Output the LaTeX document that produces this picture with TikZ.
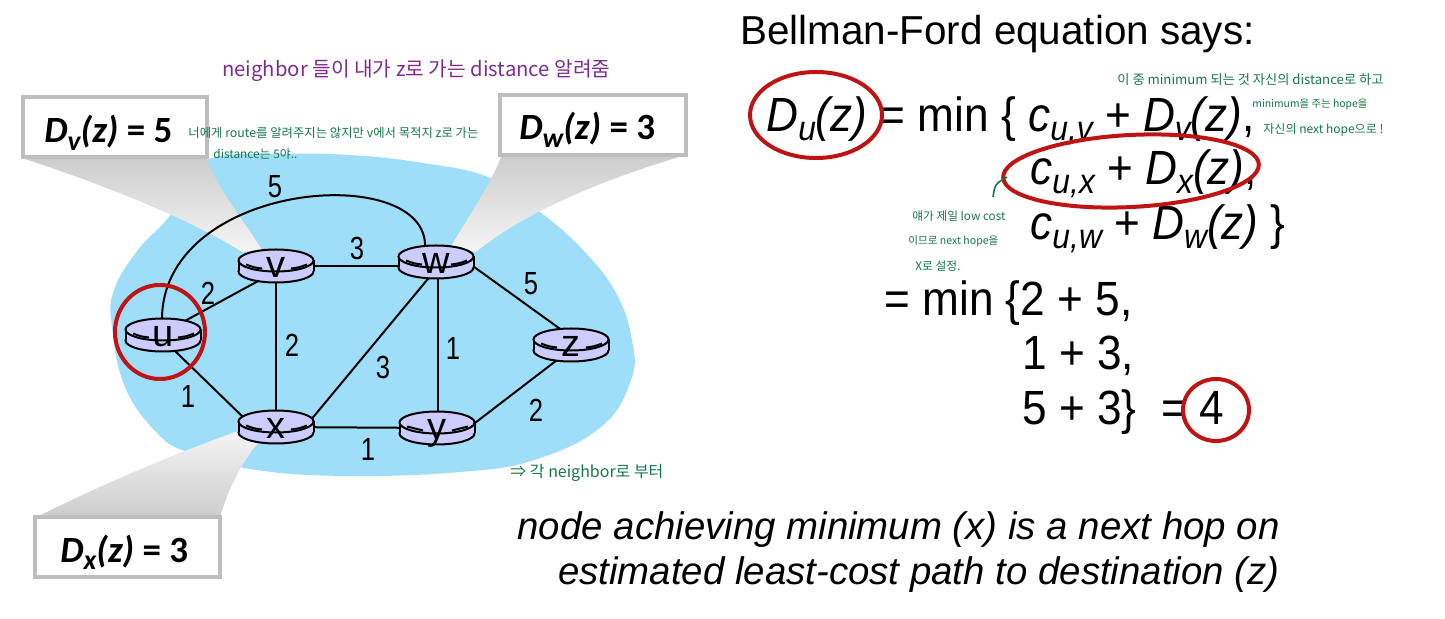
\documentclass[tikz,border=0pt]{standalone}
\usepackage{fontspec}
\setmainfont{Liberation Sans}
\newfontfamily\carl{Carlito}
\newfontfamily\kr{Noto Sans CJK KR}
\usetikzlibrary{calc}
\definecolor{blob}{RGB}{158,222,248}
\definecolor{rtrfill}{RGB}{204,204,255}
\definecolor{hred}{RGB}{192,20,20}
\definecolor{hgreen}{RGB}{22,120,74}
\definecolor{hpurple}{RGB}{125,45,145}
\definecolor{boxline}{RGB}{190,190,190}
\definecolor{conetop}{RGB}{205,205,205}
\definecolor{conebot}{RGB}{245,245,245}
\newcommand\sbs[1]{\raisebox{-0.17em}{\scalebox{0.72}{\itshape #1}}}
\newcommand\csbs[1]{\raisebox{-0.2em}{\scalebox{0.75}{\itshape #1}}}
\newcommand\nar[1]{\scalebox{0.92}[1]{#1}}
\newcommand\el[1]{\scalebox{0.8}[1]{#1}}
\tikzset{
 rline/.style={line width=1pt, black},
 rtrs/.style={fill=rtrfill, draw=black, line width=1pt},
 rlabel/.style={anchor=base, inner sep=0pt, font=\fontsize{19pt}{19pt}\selectfont},
 edge/.style={line width=1pt, black},
 elabel/.style={inner sep=0pt, font=\fontsize{16pt}{16pt}\selectfont},
 callout/.style={draw=boxline, line width=2pt, fill=white},
 ctext/.style={anchor=base west, inner sep=0pt, font=\carl\bfseries\fontsize{18.5pt}{18.5pt}\selectfont},
 eq/.style={anchor=base west, inner sep=0pt, font=\fontsize{24pt}{24pt}\selectfont},
 hand/.style={anchor=base west, inner sep=0pt, font=\kr},
 redmark/.style={draw=hred, line width=2pt},
}
\newcommand\router[2]{%
 \begin{scope}[shift={(#1)}]
 \filldraw[rtrs] (0,5.5) ellipse [x radius=37.5, y radius=11];
 \fill[rtrfill] (-37.5,-5.5) rectangle (37.5,5.5);
 \draw[rline] (-37.5,-5.5) -- (-37.5,5.5) (37.5,-5.5) -- (37.5,5.5);
 \filldraw[rtrs] (0,-5.5) ellipse [x radius=37.5, y radius=11];
 \draw[rline] (-30,-1.5) .. controls (-22,1.5) .. (-14,2.5) (15,2.5) .. controls (23,1.5) .. (31,-1.5);
 \end{scope}
 \node[rlabel] (#1l) at ($(#1)+(0,12)$) {#2};}
\begin{document}
\begin{tikzpicture}[x=0.5pt,y=-0.5pt]
\useasboundingbox (0,0) rectangle (1445,619);
\fill[white] (0,0) rectangle (1445,619);
% blob
\fill[blob] plot[smooth cycle, tension=0.7] coordinates {(212,158) (275,154) (349,155) (423,163) (490,178) (540,212) (583,250) (616,293) (632,340) (631,380) (601,427) (534,460) (460,472) (349,476) (257,470) (190,453) (157,433) (125,387) (112,327) (114,290) (138,250) (168,218) (190,183)};
% cones
\shade[top color=conetop, bottom color=conebot] (22,158) .. controls (120,190) and (200,225) .. (242,252) -- (262,250) .. controls (240,215) and (215,185) .. (207,158) -- cycle;
\shade[top color=conetop, bottom color=conebot] (502,155) .. controls (490,185) and (470,215) .. (451,246) -- (476,252) .. controls (520,215) and (600,180) .. (686,155) -- cycle;
\shade[top color=conebot, bottom color=conetop] (241,430) .. controls (170,455) and (90,490) .. (37,517) -- (220,517) .. controls (228,490) and (240,465) .. (258,443) -- cycle;
% callout boxes
\node[callout, draw, minimum width=92pt, minimum height=30pt, inner sep=0pt] (bv) at (114.5,127.5) {};
\node[callout, draw, minimum width=93pt, minimum height=30pt, inner sep=0pt] (bw) at (593,125) {};
\node[callout, draw, minimum width=92.5pt, minimum height=30pt, inner sep=0pt] (bx) at (127.5,547) {};
\node[ctext] (tv) at (44,143) {\textit{D}\csbs{v}\textit{(z)} = 5};
\node[ctext] (tw) at (519,140) {\textit{D}\csbs{w}\textit{(z)} = 3};
\node[ctext] (tx) at (60,562) {\textit{D}\csbs{x}\textit{(z)} = 3};
% routers positions
\coordinate (nu) at (163,335);
\coordinate (nv) at (276,266);
\coordinate (nw) at (436,262);
\coordinate (nx) at (276,427);
\coordinate (ny) at (437,428);
\coordinate (nz) at (571,345);
% edges
\draw[edge] ($(nu)+(20,-13)$) -- ($(nv)+(-16,14)$);
\draw[edge] ($(nu)+(10,14)$) -- ($(nx)+(-32,-9)$);
\draw[edge] (nv) -- (nx);
\draw[edge] ($(nv)+(0,0)$) -- ($(nw)+(0,4)$);
\draw[edge] ($(nx)+(34,-6)$) -- ($(nw)+(-4,12)$);
\draw[edge] ($(nw)+(2,0)$) -- ($(ny)+(1,0)$);
\draw[edge] (nx) -- (ny);
\draw[edge] ($(nw)+(34,2)$) -- ($(nz)+(-8,-14)$);
\draw[edge] ($(ny)+(34,-2)$) -- ($(nz)+(-10,12)$);
\draw[edge] ($(nu)+(-1,-12)$) .. controls (158,180) and (430,160) .. ($(nw)+(-11,-14)$);
% routers
\router{nu}{u}
\router{nv}{v}
\router{nw}{w}
\router{nx}{x}
\router{ny}{y}
\router{nz}{z}
% edge labels
\node[elabel] (l1) at (275,187) {\el{5}};
\node[elabel] (l2) at (357,248) {\el{3}};
\node[elabel] (l3) at (208,293) {\el{2}};
\node[elabel] (l4) at (531,284) {\el{5}};
\node[elabel] (l5) at (292,345) {\el{2}};
\node[elabel] (l6) at (383,367) {\el{3}};
\node[elabel] (l7) at (453,348) {\el{1}};
\node[elabel] (l8) at (188,396) {\el{1}};
\node[elabel] (l9) at (368,449) {\el{1}};
\node[elabel] (l10) at (536,410) {\el{2}};
% red circle around u
\draw[redmark] (160,332) ellipse [x radius=45, y radius=47];
% right side
\node[anchor=base west, inner sep=0pt, font=\fontsize{20.2pt}{20.2pt}\selectfont] (title) at (740,45) {Bellman-Ford equation says:};
\node[eq] (e1) at (766,132) {\nar{\textit{D}\sbs{u}\textit{(z)} = min \{ \textit{c}\sbs{u,v} + \textit{D}\sbs{v}\textit{(z)},}};
\node[eq] (e2) at (1030,185) {\nar{\textit{c}\sbs{u,x} + \textit{D}\sbs{x}\textit{(z)},}};
\node[eq] (e3) at (1030,240) {\nar{\textit{c}\sbs{u,w} + \textit{D}\sbs{w}\textit{(z)} \}}};
\node[eq] (e4) at (884,316) {\nar{= min \{2 + 5,}};
\node[eq] (e5) at (1022,370) {\nar{1 + 3,}};
\node[eq] (e6) at (1022,425) {\nar{5 + 3\}~~= 4}};
\draw[redmark] (816,115) ellipse [x radius=66, y radius=43];
\draw[redmark, rotate around={3:(1131,171)}] (1131,171) ellipse [x radius=128, y radius=36];
\draw[redmark] (1216,410) ellipse [x radius=33, y radius=31];
% bottom text
\node[anchor=base east, inner sep=0pt, font=\itshape\fontsize{19.2pt}{19.2pt}\selectfont] (b1) at (1280,539) {node achieving minimum (x) is a next hop on};
\node[anchor=base east, inner sep=0pt, font=\itshape\fontsize{19.2pt}{19.2pt}\selectfont] (b2) at (1280,584) {estimated least-cost path to destination (z)};
% handwritten notes
\node[hand, text=hpurple] (h1) at (222,77) {\resizebox{194pt}{!}{neighbor 들이 내가 z로 가는 distance 알려줌}};
\node[hand, text=hgreen] (h2) at (188,138) {\resizebox{145pt}{!}{너에게 route를 알려주지는 않지만 v에서 목적지 z로 가는}};
\node[hand, text=hgreen] (h3) at (213,159) {\resizebox{42pt}{!}{distance는 5야..}};
\node[hand, text=hgreen] (h4) at (1117,85) {\resizebox{133pt}{!}{이 중 minimum 되는 것 자신의 distance로 하고}};
\node[hand, text=hgreen] (h5) at (1252,108) {\resizebox{57.5pt}{!}{minimum을 주는 hope을}};
\node[hand, text=hgreen] (h6) at (1263,134) {\resizebox{60pt}{!}{자신의 next hope으로 !}};
\node[hand, text=hgreen] (h7) at (912,221) {\resizebox{46.5pt}{!}{얘가 제일 low cost}};
\node[hand, text=hgreen] (h8) at (908,245) {\resizebox{45pt}{!}{이므로 next hope을}};
\node[hand, text=hgreen] (h9) at (915,271) {\resizebox{22.5pt}{!}{X로 설정.}};
\node[hand, text=hgreen] (h10) at (510,478) {\resizebox{76.5pt}{!}{⇒ 각 neighbor로 부터}};
\draw[hgreen, line width=0.8pt] (993,197) .. controls (995,184) .. (1007,177);
\end{tikzpicture}
\end{document}
